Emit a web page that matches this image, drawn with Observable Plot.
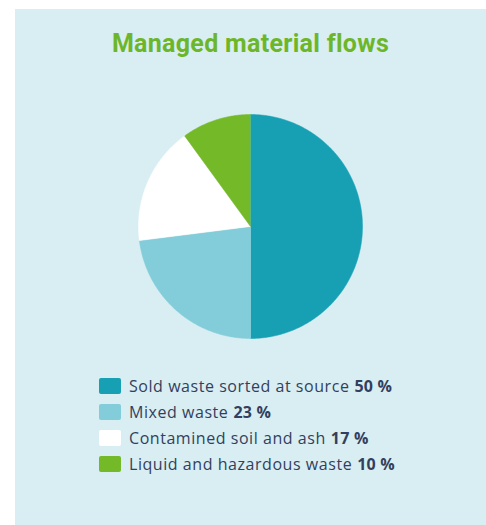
<!DOCTYPE html>
<html>
<head>
<meta charset="utf-8">
<script src="https://cdn.jsdelivr.net/npm/d3@7"></script>
<script src="https://cdn.jsdelivr.net/npm/@observablehq/plot@0.6"></script>
<style>
  html, body { margin: 0; padding: 0; background: #ffffff; width: 486px; height: 525px; overflow: hidden; }
  #panel { position: absolute; left: 15px; top: 9px; width: 471px; height: 516px; background: #d8eef2; }
  #title { position: absolute; left: 15px; top: 29px; width: 471px; text-align: center;
           font-family: Roboto, sans-serif; font-weight: 700; font-size: 25px; line-height: 30px; color: #6db62a; letter-spacing: 0.3px; }
  #chart { position: absolute; left: 138px; top: 114px; }
  #legend { position: absolute; left: 99px; top: 373px; font-family: "Open Sans", sans-serif; font-size: 16px; letter-spacing: 0.55px; color: #333f5e; }
  .row { display: flex; align-items: center; height: 26px; }
  .sw { width: 22px; height: 16px; margin-right: 8px; border-radius: 2px; }
  .row b { font-weight: 700; margin-left: 5px; letter-spacing: 0.2px; }
</style>
</head>
<body>
<div id="panel"></div>
<div id="title">Managed material flows</div>
<div id="chart"></div>
<div id="legend"></div>
<script>
const categories = ["Sold waste sorted at source", "Mixed waste", "Contamined soil and ash", "Liquid and hazardous waste"];
const values = [50, 23, 17, 10];
const colors = ["#17a0b4", "#83ccd9", "#ffffff", "#74b928"];
const valueLabels = ["50 %", "23 %", "17 %", "10 %"];

const arcs = d3.pie().sort(null).value(d => d.value)(categories.map((c, i) => ({category: c, value: values[i]})));
const pts = [];
for (const a of arcs) {
  const n = Math.max(2, Math.ceil((a.endAngle - a.startAngle) / 0.01));
  pts.push({category: a.data.category, x: 0, y: 0});
  for (let k = 0; k <= n; k++) {
    const t = a.startAngle + (a.endAngle - a.startAngle) * k / n;
    pts.push({category: a.data.category, x: Math.sin(t), y: Math.cos(t)});
  }
}

const chart = Plot.plot({
  width: 224, height: 224,
  margin: 0,
  x: {domain: [-1, 1], axis: null},
  y: {domain: [-1, 1], axis: null},
  color: {domain: categories, range: colors},
  marks: [
    Plot.line(pts, {x: "x", y: "y", z: "category", fill: "category", stroke: "category", strokeWidth: 0.5, curve: "linear"})
  ]
});
chart.style.background = "transparent";
chart.style.overflow = "visible";
document.getElementById("chart").append(chart);

const legend = document.getElementById("legend");
categories.forEach((c, i) => {
  const row = document.createElement("div");
  row.className = "row";
  const sw = document.createElement("div");
  sw.className = "sw";
  sw.style.background = colors[i];
  const label = document.createElement("span");
  label.textContent = c;
  const b = document.createElement("b");
  b.textContent = valueLabels[i];
  row.append(sw, label, b);
  legend.append(row);
});
</script>
</body>
</html>
